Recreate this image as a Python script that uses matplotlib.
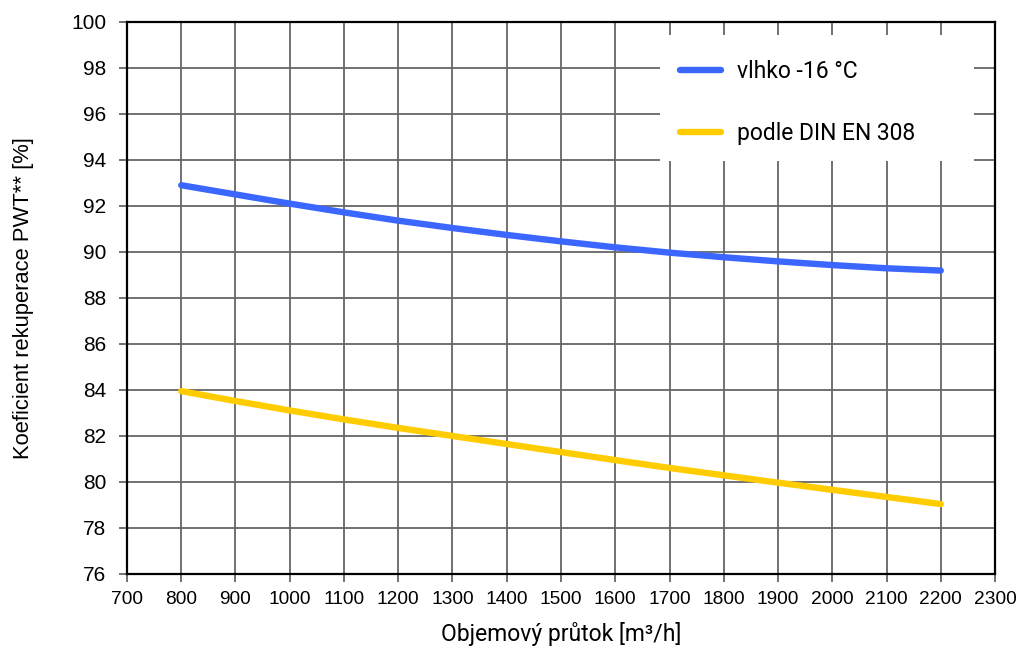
import matplotlib.pyplot as plt
from matplotlib.patches import Rectangle

# objemovy prutok [m3/h]
flow = [800, 900, 1000, 1100, 1200, 1300, 1400, 1500, 1600, 1700, 1800, 1900, 2000, 2100, 2200]
# koeficient rekuperace [%]
wet_16 = [92.9, 92.5, 92.1, 91.72, 91.36, 91.04, 90.74, 90.46, 90.2, 89.97, 89.77, 89.59, 89.43, 89.29, 89.19]
din_en_308 = [83.95, 83.52, 83.11, 82.72, 82.35, 82.0, 81.65, 81.3, 80.95, 80.61, 80.29, 79.97, 79.66, 79.35, 79.04]

x_ticks = list(range(700, 2301, 100))
y_ticks = list(range(76, 101, 2))

fig = plt.figure(figsize=(10.2, 6.48), dpi=100)
ax = fig.add_axes([0.1245, 0.1142, 0.851, 0.852])

ax.plot(flow, wet_16, color='#3b66ff', lw=4.6, solid_capstyle='round', label='vlhko -16 °C', zorder=3)
ax.plot(flow, din_en_308, color='#ffcc00', lw=4.6, solid_capstyle='round', label='podle DIN EN 308', zorder=3)

ax.set_xlim(700, 2300)
ax.set_ylim(76, 100)
ax.set_xticks(x_ticks)
ax.set_yticks(y_ticks)
ax.grid(True, color='#666666', lw=1.3)
ax.set_axisbelow(True)
ax.tick_params(length=6, width=1.3, color='#666666')
ax.tick_params(axis='x', labelsize=13.8, pad=6)
ax.tick_params(axis='y', labelsize=15, pad=9)
for lab in ax.get_xticklabels() + ax.get_yticklabels():
    lab.set_fontfamily('Liberation Sans')
for sp in ax.spines.values():
    sp.set_color('black')
    sp.set_linewidth(1.6)

# bily podklad pod legendou
ax.add_patch(Rectangle((0.614, 0.748), 0.362, 0.228, transform=ax.transAxes,
                       facecolor='white', edgecolor='none', zorder=4))
leg = ax.legend(loc='upper left', bbox_to_anchor=(0.627, 0.948), frameon=False,
                prop={'family': 'Roboto', 'size': 16.5}, handlelength=1.75,
                handletextpad=0.7, labelspacing=1.72, borderaxespad=0)
leg.set_zorder(5)

ax.set_xlabel('Objemový průtok [m³/h]', fontfamily='Roboto', fontsize=16.5, labelpad=10)
ax.set_ylabel('Koeficient rekuperace PWT** [%]', fontfamily='Liberation Sans', fontsize=15.8, labelpad=27)

fig.savefig('out.png', dpi=100)
